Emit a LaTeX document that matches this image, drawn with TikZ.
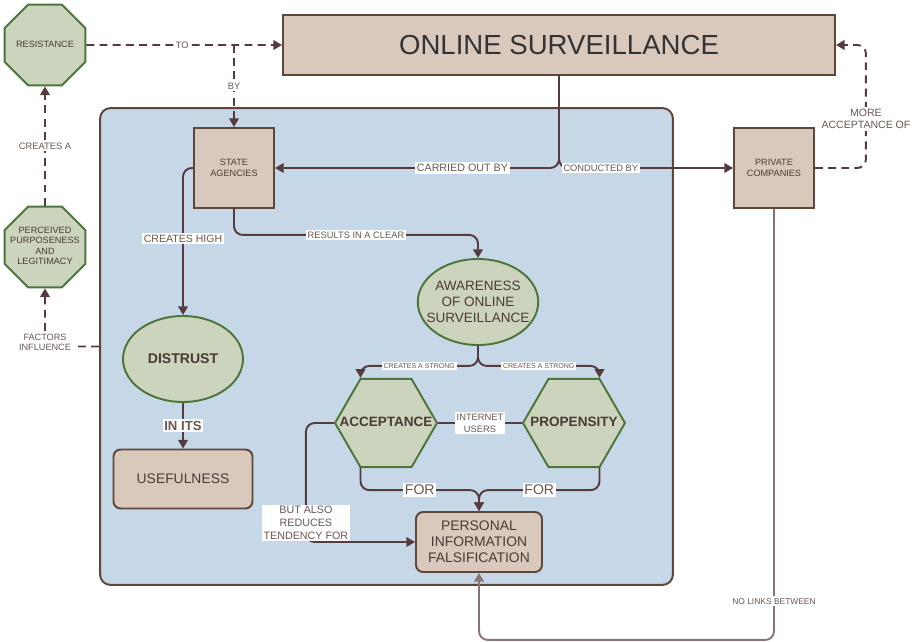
\documentclass[tikz,border=0pt]{standalone}
\usepackage{fontspec}
\setmainfont{Liberation Sans}
\usetikzlibrary{shapes.geometric, arrows.meta}
\definecolor{tanfill}{HTML}{D9C9BD}
\definecolor{tanline}{HTML}{5E4638}
\definecolor{sagefill}{HTML}{CDD4BE}
\definecolor{sageline}{HTML}{4B7539}
\definecolor{panelblue}{HTML}{C6D8E8}
\definecolor{linkcol}{HTML}{553A3E}
\definecolor{linklight}{HTML}{8A7377}
\definecolor{inkcol}{HTML}{4A3A35}
\definecolor{lblcol}{HTML}{6A5750}
% text that does not widen its shape
\newcommand{\slimtext}[1]{\makebox[0pt]{\begin{tabular}{@{}c@{}}#1\end{tabular}}}
\tikzset{
  box/.style      = {shape=rectangle, draw=tanline, fill=tanfill, line width=1.1pt,
                     align=center, text=inkcol, inner sep=0pt},
  bigbox/.style   = {box, font=\fontsize{15.7}{18}\selectfont, text=black!80},
  smallbox/.style = {box, minimum width=1.6cm, minimum height=1.6cm,
                     font=\fontsize{5.2}{6}\selectfont},
  roundbox/.style = {box, rounded corners=4pt, font=\fontsize{7.9}{9}\selectfont},
  sage/.style     = {draw=sageline, fill=sagefill, line width=1.1pt,
                     align=center, text=inkcol},
  octo/.style     = {sage, regular polygon, regular polygon sides=8,
                     minimum size=1.75cm, inner sep=0pt,
                     font=\fontsize{5.2}{6}\selectfont},
  hexa/.style     = {sage, regular polygon, regular polygon sides=6,
                     minimum size=2.04cm, inner sep=0pt,
                     font=\bfseries\fontsize{7.7}{9}\selectfont},
  oval/.style     = {sage, ellipse, minimum width=2.4cm, minimum height=1.72cm,
                     inner sep=-5pt, font=\fontsize{7.7}{9}\selectfont},
  lbl/.style      = {fill=white, sharp corners, inner sep=1pt, text=lblcol,
                     align=center, font=\fontsize{5.3}{6.4}\selectfont},
  conn/.style     = {draw=linkcol, line width=1.1pt, rounded corners=5pt,
                     -{Triangle[length=5pt,width=5.5pt]}},
  dconn/.style    = {conn, dash pattern=on 4.5pt off 3pt}
}
\begin{document}
\begin{tikzpicture}[x=0.02cm, y=-0.02cm]
  \useasboundingbox (0,0) rectangle (917,642);
  % blue area
  \node [draw=tanline, fill=panelblue, line width=1.1pt, rounded corners=6pt,
         minimum width=11.46cm, minimum height=9.54cm] (panel) at (386.5,346.5) {};
  \node [bigbox, minimum width=11.04cm, minimum height=1.2cm] (surv) at (559,45)
        {ONLINE SURVEILLANCE};
  \node [octo] (res)  at (45,45)  {\slimtext{RESISTANCE}};
  \node [octo] (perc) at (45,247) {\slimtext{PERCEIVED\\PURPOSENESS\\AND\\LEGITIMACY}};
  \node [smallbox] (state) at (234,168) {STATE\\AGENCIES};
  \node [smallbox] (priv)  at (774,168) {PRIVATE\\COMPANIES};
  \node [oval] (aware) at (478,302) {AWARENESS\\OF ONLINE\\SURVEILLANCE};
  \node [oval, font=\bfseries\fontsize{8}{9}\selectfont] (dis) at (183,359) {DISTRUST};
  \node [roundbox, minimum width=2.78cm, minimum height=1.18cm] (use) at (183,479)
        {USEFULNESS};
  \node [hexa] (acc)  at (386,423) {\slimtext{ACCEPTANCE}};
  \node [hexa] (prop) at (574,423) {\slimtext{PROPENSITY}};
  \node [roundbox, minimum width=2.52cm, minimum height=1.2cm] (pers) at (479,542)
        {PERSONAL\\INFORMATION\\FALSIFICATION};
  \coordinate (byfork) at (234,45);

  % dashed links outside
  \draw [dconn] (res.east) -- (surv.west) node [lbl, pos=0.49] {TO};
  \draw [dconn] (byfork) -- (state.north) node [lbl, midway] {BY};
  \draw [dconn] (perc.north) -- (res.south) node [lbl, midway] {CREATES A};
  \draw [dconn] (panel.west) -| (perc.south)
        node [lbl, pos=0.5, yshift=2.5pt, font=\fontsize{5.2}{5.8}\selectfont]
        {FACTORS\\INFLUENCE};
  \draw [dconn] (priv.east) -- ++(51,0) |- (surv.east)
        node [lbl, pos=0.2, font=\fontsize{6}{7.2}\selectfont] {MORE\\ACCEPTANCE OF};

  % solid links
  \draw [conn] (surv.south) |- (state.east)
        node [lbl, pos=0.67, font=\fontsize{6.1}{7}\selectfont] {CARRIED OUT BY};
  \draw [conn] (surv.south) |- (priv.west) node [lbl, pos=0.62] {CONDUCTED BY};
  \draw [conn] (state.west) -| (dis.north)
        node [lbl, pos=0.74, font=\fontsize{6}{7}\selectfont] {CREATES HIGH};
  \draw [conn] (state.south) -- ++(0,26) -| (aware.north)
        node [lbl, pos=0.25] {RESULTS IN A CLEAR};
  \draw [conn] (dis.south) -- (use.north)
        node [lbl, midway, font=\bfseries\fontsize{7.5}{9}\selectfont] {IN ITS};
  \draw [conn] (aware.south) -- ++(0,20) -| ([xshift=-0.51cm]acc.north)
        node [lbl, pos=0.25, font=\fontsize{4}{5}\selectfont] {CREATES A STRONG};
  \draw [conn] (aware.south) -- ++(0,20) -| ([xshift=0.51cm]prop.north)
        node [lbl, pos=0.25, font=\fontsize{4}{5}\selectfont] {CREATES A STRONG};
  \draw [draw=linkcol, line width=1.1pt] (acc.east) -- (prop.west)
        node [lbl, midway, font=\fontsize{5.3}{6.8}\selectfont] {INTERNET\\USERS};
  \draw [conn] ([xshift=-0.51cm]acc.south) -- ++(0,22) -| (pers.north)
        node [lbl, pos=0.25, font=\fontsize{8}{9}\selectfont] {FOR};
  \draw [conn] ([xshift=0.51cm]prop.south) -- ++(0,22) -| (pers.north)
        node [lbl, pos=0.25, font=\fontsize{8}{9}\selectfont] {FOR};
  \draw [conn] (acc.west) -- ++(-28,0) |- (pers.west)
        node [lbl, pos=0.42, font=\fontsize{6.1}{7.3}\selectfont]
        {BUT ALSO\\REDUCES\\TENDENCY FOR};
  \draw [conn, draw=linklight] (priv.south) -- ++(0,431)
        node [lbl, pos=0.91, font=\fontsize{4.8}{6}\selectfont] {NO LINKS BETWEEN}
        -| (pers.south);
\end{tikzpicture}
\end{document}
